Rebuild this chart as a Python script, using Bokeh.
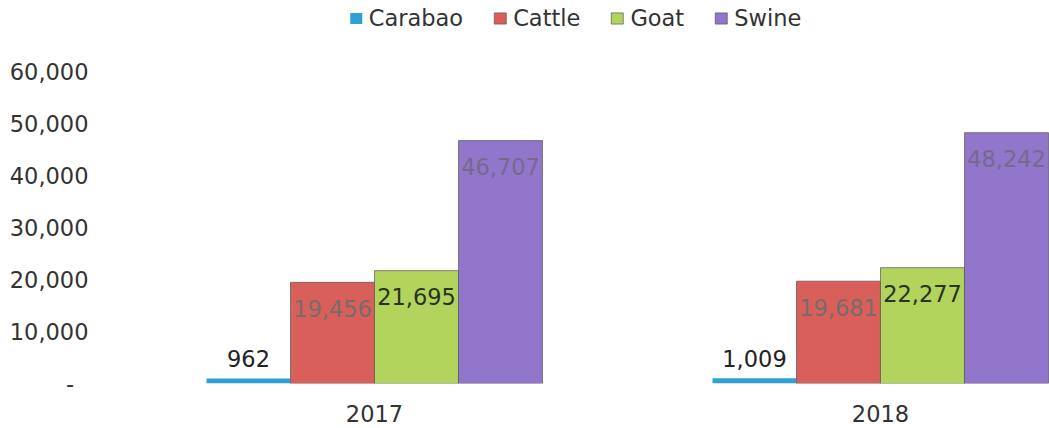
from bokeh.plotting import figure
from bokeh.models import (ColumnDataSource, Range1d, FixedTicker, NumeralTickFormatter,
                          Legend, LegendItem)
from bokeh.core.properties import value
from bokeh.embed import file_html
from bokeh.resources import INLINE

# ---- data ----
years = ["2017", "2018"]
species = ["Carabao", "Cattle", "Goat", "Swine"]
carabao = [962, 1009]
cattle = [19456, 19681]
goat = [21695, 22277]
swine = [46707, 48242]
y_ticks = [0, 10000, 20000, 30000, 40000, 50000, 60000]

series = [carabao, cattle, goat, swine]
colors = ["#2f9fd4", "#d9605a", "#b2d45c", "#9276cb"]
label_colors = ["#222222", "#7a6a6c", "#2a3320", "#756a8c"]

FONT = "DejaVu Sans"
FS = "22.5px"

p = figure(width=1049, height=428, output_backend="svg", toolbar_location=None,
           x_range=Range1d(-0.5415, 1.334), y_range=Range1d(0, 73654),
           min_border_left=100, min_border_right=0, min_border_top=0,
           min_border_bottom=45)
p.outline_line_color = None
p.xgrid.grid_line_color = None
p.ygrid.grid_line_color = None
p.background_fill_color = "white"
p.border_fill_color = "white"

bar_w = 0.166
items = []
for i, (name, vals) in enumerate(zip(species, series)):
    xs = [k + (i - 1.5) * bar_w for k in range(len(years))]
    src = ColumnDataSource(dict(
        x=xs, top=vals,
        label=[f"{v:,}" for v in vals],
        yoff=[-20 if v < 5000 else 26 for v in vals],
    ))
    r = p.vbar(x="x", top="top", bottom=0, width=bar_w, source=src,
               fill_color=colors[i],
               line_color=None if i == 0 else "#555555",
               line_width=1, line_alpha=0.7)
    p.text(x="x", y="top", text="label", source=src, y_offset="yoff",
           text_align="center", text_baseline="middle",
           text_font=value(FONT), text_font_size=FS, text_color=label_colors[i])
    items.append(LegendItem(label=name, renderers=[r]))

legend = Legend(items=items, orientation="horizontal", location="top_center",
                border_line_color=None, background_fill_alpha=0,
                label_text_font=FONT, label_text_font_size=FS,
                label_text_color="#333333", glyph_width=15, glyph_height=14,
                label_standoff=6, spacing=29, padding=0, margin=5)
p.add_layout(legend, "center")

# x axis
p.xaxis.ticker = FixedTicker(ticks=list(range(len(years))))
p.xaxis.major_label_overrides = {k: y for k, y in enumerate(years)}
p.xaxis.axis_line_color = None
p.xaxis.major_tick_line_color = None
p.xaxis.minor_tick_line_color = None
p.xaxis.major_label_standoff = 15
p.xaxis.major_label_text_font = FONT
p.xaxis.major_label_text_font_size = FS
p.xaxis.major_label_text_color = "#333333"

# y axis
p.yaxis.ticker = FixedTicker(ticks=y_ticks)
p.yaxis.formatter = NumeralTickFormatter(format="0,0")
p.yaxis.major_label_overrides = {0: "-\u00a0\u00a0"}
p.yaxis.axis_line_color = None
p.yaxis.major_tick_line_color = None
p.yaxis.minor_tick_line_color = None
p.yaxis.major_tick_out = 0
p.yaxis.major_label_standoff = 12
p.yaxis.major_label_text_font = FONT
p.yaxis.major_label_text_font_size = FS
p.yaxis.major_label_text_color = "#333333"

open("out.html", "w").write(file_html(p, INLINE))
